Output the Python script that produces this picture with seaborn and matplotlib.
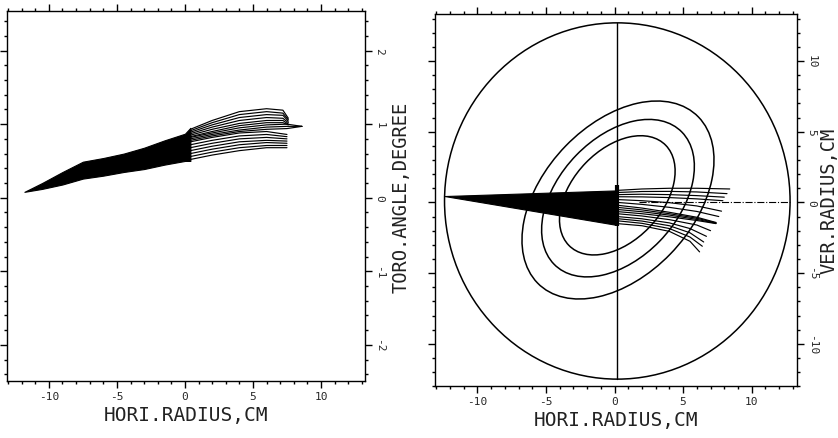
import numpy as np
import pandas as pd
import matplotlib
matplotlib.use("Agg")
import matplotlib.pyplot as plt
from matplotlib.patches import Ellipse, Circle
import seaborn as sns

# ---------------- data ----------------
# Left panel: toroidal angle vs horizontal radius
left_fan_x = [-11.8, -10.5, -9.0, -7.5, -6.0, -4.5, -3.0, -1.5, 0.0, 0.4]
left_fan_upper = [0.08, 0.20, 0.35, 0.49, 0.54, 0.60, 0.68, 0.78, 0.87, 0.95]
left_fan_lower = [0.08, 0.12, 0.18, 0.26, 0.30, 0.35, 0.39, 0.45, 0.50, 0.50]

left_upper_x = [0.4, 2.0, 4.0, 6.0, 7.2, 7.6]
left_upper_y = [
    [0.93, 1.05, 1.17, 1.21, 1.19, 1.08],
    [0.91, 1.02, 1.13, 1.17, 1.15, 1.06],
    [0.89, 0.99, 1.09, 1.13, 1.12, 1.04],
    [0.87, 0.96, 1.05, 1.09, 1.08, 1.02],
    [0.85, 0.93, 1.01, 1.05, 1.05, 1.00],
    [0.83, 0.90, 0.98, 1.02, 1.02, 0.99],
]
left_core_x = [0.4, 2.0, 4.0, 6.0, 7.5, 8.6]
left_core_y = [
    [0.82, 0.88, 0.95, 0.99, 1.00, 0.97],
    [0.80, 0.86, 0.92, 0.96, 0.97, 0.97],
    [0.78, 0.84, 0.90, 0.93, 0.94, 0.97],
]
left_lower_x = [0.4, 2.0, 4.0, 6.0, 7.5]
left_lower_y = [
    [0.76, 0.82, 0.88, 0.90, 0.86],
    [0.72, 0.78, 0.84, 0.86, 0.83],
    [0.68, 0.74, 0.80, 0.82, 0.80],
    [0.64, 0.70, 0.76, 0.78, 0.77],
    [0.60, 0.66, 0.72, 0.75, 0.74],
    [0.56, 0.62, 0.68, 0.71, 0.71],
    [0.52, 0.58, 0.64, 0.68, 0.68],
]

# Right panel: vertical vs horizontal radius
right_fan_x = [-12.4, 0.2]
right_fan_upper = [0.45, 0.85]
right_fan_lower = [0.45, -1.6]
right_blob_x = [0.2, 0.2]
right_blob_y = [-1.7, 1.2]

right_lines_x = [
    [0.2, 2, 4, 6, 8.4], [0.2, 2, 4, 6, 8.2], [0.2, 2, 4, 6, 8.0],
    [0.2, 2, 4, 6, 7.9], [0.2, 2, 4, 6, 7.8], [0.2, 2, 4, 6, 7.6],
    [0.2, 2, 4, 6, 7.4], [0.2, 2, 4, 6, 7.4], [0.2, 2, 4, 6, 7.4],
    [0.2, 2, 4, 6, 7.4], [0.2, 2, 4, 6, 7.0], [0.2, 2, 4, 5.5, 6.7],
    [0.2, 2, 4, 5.5, 6.5], [0.2, 2, 4, 5.5, 6.4], [0.2, 2, 4, 5.5, 6.2],
]
right_lines_y = [
    [0.85, 0.95, 1.00, 1.00, 0.95],
    [0.70, 0.77, 0.78, 0.74, 0.62],
    [0.55, 0.58, 0.55, 0.48, 0.37],
    [0.40, 0.39, 0.34, 0.25, 0.12],
    [0.20, 0.12, -0.02, -0.25, -0.62],
    [0.00, -0.14, -0.35, -0.64, -1.00],
    [-0.20, -0.40, -0.70, -1.05, -1.42],
    [-0.35, -0.53, -0.80, -1.12, -1.45],
    [-0.50, -0.66, -0.90, -1.20, -1.48],
    [-0.65, -0.80, -1.02, -1.28, -1.50],
    [-0.80, -0.96, -1.22, -1.60, -2.00],
    [-1.00, -1.16, -1.45, -1.85, -2.40],
    [-1.15, -1.32, -1.65, -2.15, -2.80],
    [-1.30, -1.48, -1.85, -2.45, -3.10],
    [-1.50, -1.65, -2.05, -2.75, -3.50],
]
axis_dash_x = [1.8, 12.8]
axis_dash_y = [0.0, 0.0]
vert_line_x = [0.2, 0.2]
vert_line_y = [-12.5, 12.7]

wall_center = (0.2, 0.1)
wall_radius = 12.6
ell_centers = [(0.25, 0.17), (0.25, 0.30), (0.20, 0.50)]
ell_major = [8.3, 6.6, 5.0]   # semi-axes
ell_minor = [5.4, 4.3, 3.25]
ell_angle = [45, 45, 45]

x_ticks = [-10, -5, 0, 5, 10]
left_y_ticks = [-2, -1, 0, 1, 2]
right_y_ticks = [-10, -5, 0, 5, 10]

# ---------------- build long tables ----------------
def to_long(xs_list, ys_list, prefix):
    rows = []
    for i, (xs, ys) in enumerate(zip(xs_list, ys_list)):
        for j, (x, y) in enumerate(zip(xs, ys)):
            rows.append({"line": f"{prefix}{i}", "order": j, "x": x, "y": y})
    return rows

left_rows = []
left_rows += to_long([left_upper_x] * len(left_upper_y), left_upper_y, "u")
left_rows += to_long([left_core_x] * len(left_core_y), left_core_y, "c")
left_rows += to_long([left_lower_x] * len(left_lower_y), left_lower_y, "w")
left_df = pd.DataFrame(left_rows)
right_df = pd.DataFrame(to_long(right_lines_x, right_lines_y, "r"))

# ---------------- style ----------------
sns.set_theme(style="ticks")
plt.rcParams["font.family"] = ["DejaVu Sans Mono", "DejaVu Sans"]
plt.rcParams["axes.linewidth"] = 1.0

fig = plt.figure(figsize=(8.38, 4.39), dpi=100)
axL = fig.add_axes([0.008, 0.130, 0.427, 0.843])
axR = fig.add_axes([0.519, 0.118, 0.432, 0.847])

lw = 0.85

# left panel
axL.fill_between(left_fan_x, left_fan_lower, left_fan_upper, color="black", lw=0.8)
sns.lineplot(data=left_df, x="x", y="y", units="line", estimator=None, sort=False,
             color="black", lw=lw, ax=axL, legend=False)

# right panel
axR.add_patch(Circle(wall_center, wall_radius, fill=False, ec="black", lw=1.1))
for c, a, b, ang in zip(ell_centers, ell_major, ell_minor, ell_angle):
    axR.add_patch(Ellipse(c, 2 * a, 2 * b, angle=ang, fill=False, ec="black", lw=1.1))
axR.plot(vert_line_x, vert_line_y, color="black", lw=1.0)
axR.plot(axis_dash_x, axis_dash_y, color="black", lw=0.8, ls="-.")
axR.fill_between(right_fan_x, right_fan_lower, right_fan_upper, color="black", lw=0.8)
axR.plot(right_blob_x, right_blob_y, color="black", lw=3.0, solid_capstyle="butt")
sns.lineplot(data=right_df, x="x", y="y", units="line", estimator=None, sort=False,
             color="black", lw=lw, ax=axR, legend=False)

# axes formatting
for ax, yticks, ylim, ylabel, yminor, lab_x in [
    (axL, left_y_ticks, (-2.49, 2.54), "TORO.ANGLE,DEGREE", 0.2, 1.103),
    (axR, right_y_ticks, (-13.0, 13.3), "VER.RADIUS,CM", 1.0, 1.088),
]:
    ax.set_facecolor("white")
    ax.set_xlim(-13.1, 13.2 if ax is axL else 13.3)
    ax.set_ylim(*ylim)
    ax.set_xticks(x_ticks)
    ax.set_xticks(np.arange(-13, 14, 1), minor=True)
    ax.set_yticks(yticks)
    lo = np.ceil(ylim[0] / yminor) * yminor
    ax.set_yticks(np.arange(lo, ylim[1], yminor), minor=True)
    ax.set_xticklabels([str(t) for t in x_ticks])
    ax.set_yticklabels([str(t) for t in yticks])
    ax.yaxis.tick_right()
    ax.yaxis.set_label_position("right")
    ax.tick_params(which="both", direction="out", top=True, bottom=True,
                   left=True, right=True, labelleft=False, labelright=True,
                   labeltop=False, labelbottom=True, color="black", width=1.0)
    ax.tick_params(which="major", length=5.0, labelsize=8, pad=2)
    ax.tick_params(which="minor", length=2.3)
    ax.tick_params(axis="y", labelrotation=-90)
    for lab in ax.get_yticklabels():
        lab.set_va("center")
        lab.set_ha("left")
    ax.set_xlabel("HORI.RADIUS,CM", fontsize=14, labelpad=3, color="#222222")
    ax.set_ylabel(ylabel, fontsize=13.5, color="#222222",
                  va="center", ha="center", rotation=90)
    ax.yaxis.set_label_coords(lab_x, 0.5)
    for s in ax.spines.values():
        s.set_color("black")
        s.set_linewidth(1.0)

fig.savefig("out.png", dpi=100, facecolor="white")
